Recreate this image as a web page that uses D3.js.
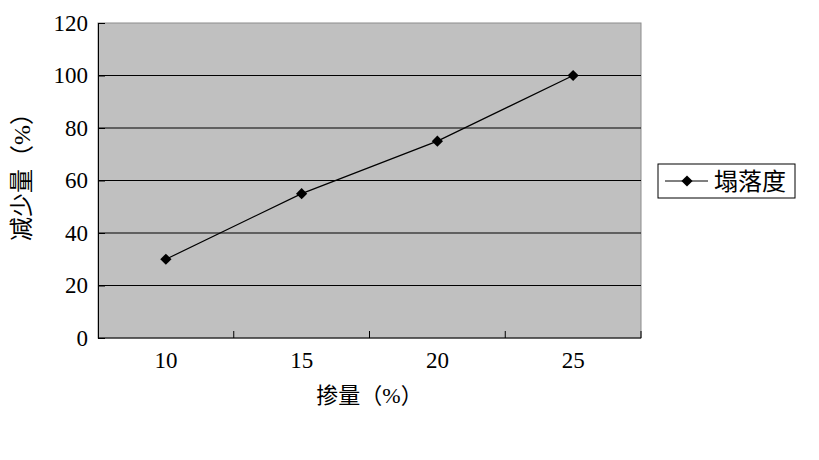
<!DOCTYPE html>
<html>
<head>
<meta charset="utf-8">
<script src="https://cdn.jsdelivr.net/npm/d3@7"></script>
<style>
  body { margin: 0; background: #fff; }
  svg { display: block; }
</style>
</head>
<body>
<div id="chart"></div>
<script>
const width = 819;
const height = 460;

const margin = { "top": 23, "left": 98, "bottom": 122, "right": 178 };

// data
const categories = ["10", "15", "20", "25"];
const slump = [30, 55, 75, 100];
const yTicks = [0, 20, 40, 60, 80, 100, 120];
const seriesName = "塌落度";

const numFont = "'Liberation Serif', 'Times New Roman', serif";
const cjkFont = "'Liberation Serif', 'Noto Sans CJK SC', serif";

const innerW = width - margin.left - margin.right;
const innerH = height - margin.top - margin.bottom;

const xScale = d3.scaleBand()
    .domain(categories)
    .range([0, innerW]);

const yScale = d3.scaleLinear()
    .domain([0, 120])
    .range([innerH, 0]);

const svg = d3.select("#chart").append("svg").attr("width", width).attr("height", height);
const g = svg.append("g").attr("transform", `translate(${margin.left},${margin.top})`);

// plot background
g.append("rect")
    .attr("width", innerW)
    .attr("height", innerH)
    .attr("fill", "#c0c0c0")
    .attr("stroke", "#8c8c8c")
    .attr("stroke-width", 1);

// gridlines
g.selectAll(".grid")
    .data(yTicks.filter(d => d > 0 && d < 120))
    .join("line")
    .attr("x1", 0)
    .attr("x2", innerW)
    .attr("y1", d => yScale(d))
    .attr("y2", d => yScale(d))
    .attr("stroke", "#000")
    .attr("stroke-width", 1);

// y axis
const yAxis = d3.axisLeft(yScale).tickValues(yTicks).tickSize(-7).tickPadding(10);
const yg = g.append("g").call(yAxis);
yg.attr("font-family", numFont).attr("font-size", 23);
yg.select(".domain").attr("stroke", "#000");
yg.selectAll("text").attr("fill", "#000");

// x axis: ticks between categories, pointing inward
const xg = g.append("g").attr("transform", `translate(0,${innerH})`);
xg.append("line")
    .attr("x1", 0).attr("x2", innerW)
    .attr("stroke", "#000");
const bounds = categories.map(c => xScale(c)).concat([innerW]);
xg.selectAll(".xtick")
    .data(bounds.slice(1))
    .join("line")
    .attr("x1", d => d).attr("x2", d => d)
    .attr("y1", 0).attr("y2", -7)
    .attr("stroke", "#000");
xg.selectAll(".xlab")
    .data(categories)
    .join("text")
    .attr("x", d => xScale(d) + xScale.bandwidth() / 2)
    .attr("y", 30)
    .attr("text-anchor", "middle")
    .attr("font-family", numFont)
    .attr("font-size", 23)
    .text(d => d);

// line + markers
const lineGen = d3.line()
    .x((d, i) => xScale(categories[i]) + xScale.bandwidth() / 2)
    .y(d => yScale(d));

g.append("path")
    .datum(slump)
    .attr("fill", "none")
    .attr("stroke", "#000")
    .attr("stroke-width", 1.2)
    .attr("d", lineGen);

const diamond = d3.symbol().type(d3.symbolDiamond2).size(80);
g.selectAll(".pt")
    .data(slump)
    .join("path")
    .attr("transform", (d, i) => `translate(${xScale(categories[i]) + xScale.bandwidth() / 2},${yScale(d)})`)
    .attr("d", diamond)
    .attr("fill", "#000");

// axis titles
svg.append("text")
    .attr("x", margin.left + innerW / 2)
    .attr("y", 403)
    .attr("text-anchor", "middle")
    .attr("font-family", cjkFont)
    .attr("font-size", 22)
    .text("掺量（%）");

svg.append("text")
    .attr("transform", `translate(30,171) rotate(-90)`)
    .attr("text-anchor", "middle")
    .attr("font-family", cjkFont)
    .attr("font-size", 24)
    .text("减少量（%）");

// legend
const lg = svg.append("g").attr("transform", "translate(658,164)");
lg.append("rect")
    .attr("width", 137)
    .attr("height", 34)
    .attr("fill", "#fff")
    .attr("stroke", "#000");
lg.append("line")
    .attr("x1", 7).attr("x2", 50)
    .attr("y1", 17).attr("y2", 17)
    .attr("stroke", "#000");
lg.append("path")
    .attr("transform", "translate(29,17)")
    .attr("d", diamond)
    .attr("fill", "#000");
lg.append("text")
    .attr("x", 56)
    .attr("y", 26)
    .attr("font-family", cjkFont)
    .attr("font-size", 24)
    .text(seriesName);
</script>
</body>
</html>
